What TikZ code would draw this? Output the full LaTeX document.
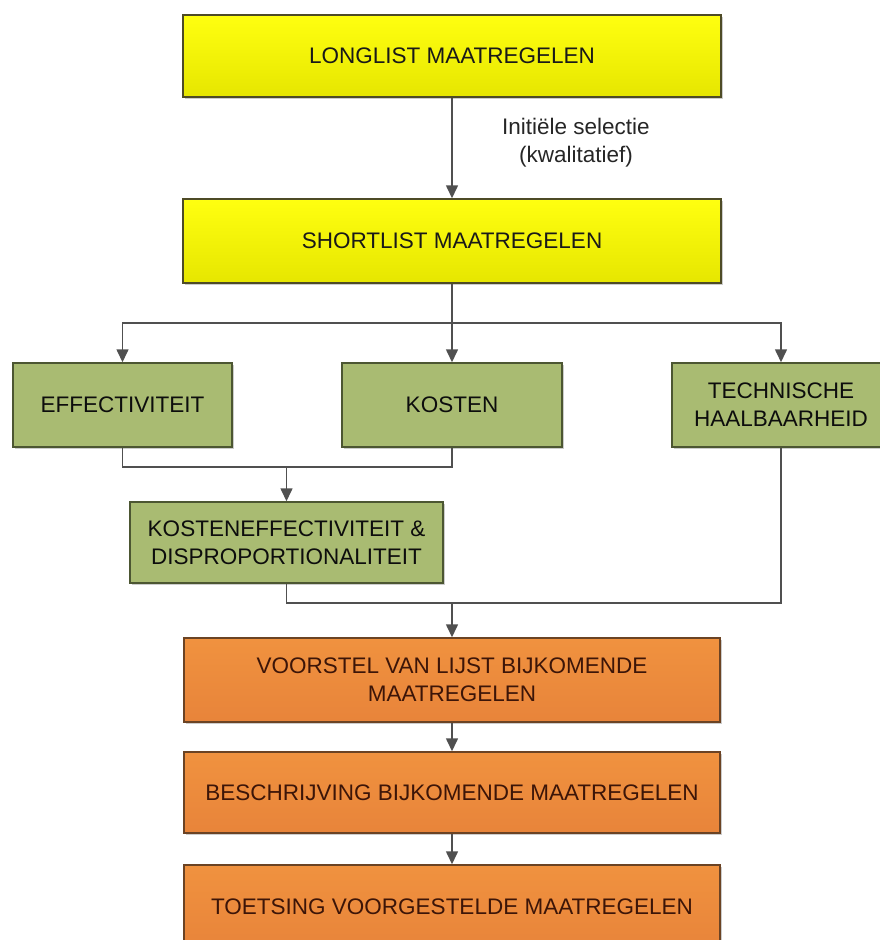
\documentclass[tikz,border=0pt]{standalone}
\usepackage{fontspec}
\setmainfont{Liberation Sans}
\usepackage{xcolor}
\usetikzlibrary{arrows.meta,shadows}

\definecolor{geeltop}{HTML}{FFFF10}
\definecolor{geelbot}{HTML}{E6E600}
\definecolor{geelrand}{HTML}{4E4B26}
\definecolor{groen}{HTML}{A9BB72}
\definecolor{groenrand}{HTML}{4C5632}
\definecolor{oranjetop}{HTML}{F0923F}
\definecolor{oranjebot}{HTML}{E8843A}
\definecolor{oranjerand}{HTML}{6B4324}
\definecolor{oranjetekst}{HTML}{3C1508}
\definecolor{lijn}{HTML}{505050}

\tikzset{
  box/.style={draw, line width=1.5pt, align=center, inner sep=0pt,
    font=\fontsize{22.5}{28}\selectfont,
    drop shadow={shadow xshift=2pt, shadow yshift=-2pt, opacity=0.2, fill=black}},
  geelbox/.style={box, draw=geelrand, top color=geeltop, bottom color=geelbot, text=black!90},
  groenbox/.style={box, draw=groenrand, fill=groen, text=black!95},
  oranjebox/.style={box, draw=oranjerand, top color=oranjetop, bottom color=oranjebot, text=oranjetekst},
  lijnstuk/.style={draw=lijn, line width=1.6pt},
  pijl/.style={lijnstuk, -{Triangle[length=13pt,width=12pt]}}
}

\begin{document}
\begin{tikzpicture}[x=1pt, y=-1pt]
  \useasboundingbox (0,0) rectangle (880,940);
  \clip (0,0) rectangle (880,940);

  \node[geelbox, minimum width=538, minimum height=82] (long) at (452,56) {LONGLIST MAATREGELEN};
  \node[geelbox, minimum width=538, minimum height=84] (short) at (452,241) {SHORTLIST MAATREGELEN};

  \node[groenbox, minimum width=219, minimum height=84] (eff) at (122.5,405) {EFFECTIVITEIT};
  \node[groenbox, minimum width=220, minimum height=84] (kost) at (452,405) {KOSTEN};
  \node[groenbox, minimum width=218, minimum height=84] (tech) at (781,405) {TECHNISCHE\\HAALBAARHEID};
  \node[groenbox, minimum width=313, minimum height=81] (ke) at (286.5,542.5) {KOSTENEFFECTIVITEIT \&\\DISPROPORTIONALITEIT};

  \node[oranjebox, minimum width=536, minimum height=84] (voor) at (452,680) {VOORSTEL VAN LIJST BIJKOMENDE\\MAATREGELEN};
  \node[oranjebox, minimum width=536, minimum height=81] (besch) at (452,792.5) {BESCHRIJVING BIJKOMENDE MAATREGELEN};
  \node[oranjebox, minimum width=536, minimum height=84] (toets) at (452,907) {TOETSING VOORGESTELDE MAATREGELEN};

  \coordinate (split) at (452,323);
  \coordinate (join) at (286.5,467);
  \coordinate (merge) at (452,603);

  \draw[pijl] (long) -- (short);
  \node[align=center, font=\fontsize{22.5}{28}\selectfont, text=black!85] (sel) at (576,143) {Initiële selectie\\(kwalitatief)};

  \draw[lijnstuk] (short) -- (split);
  \draw[pijl] (split) -| (eff.north);
  \draw[pijl] (split) -- (kost);
  \draw[pijl] (split) -| (tech.north);

  \draw[lijnstuk] (eff.south) |- (join);
  \draw[lijnstuk] (kost.south) |- (join);
  \draw[pijl] (join) -- (ke);

  \draw[lijnstuk] (ke.south) |- (merge);
  \draw[lijnstuk] (tech.south) |- (merge);
  \draw[pijl] (merge) -- (voor);

  \draw[pijl] (voor) -- (besch);
  \draw[pijl] (besch) -- (toets);
\end{tikzpicture}
\end{document}
